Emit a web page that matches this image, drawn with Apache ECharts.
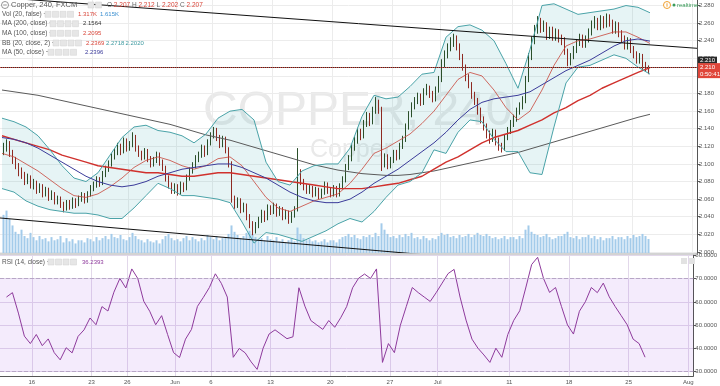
<!DOCTYPE html>
<html>
<head>
<meta charset="utf-8">
<title>Copper, 240, FXCM</title>
<script src="https://cdn.jsdelivr.net/npm/echarts@6/dist/echarts.min.js"></script>
<style>
html,body{margin:0;padding:0;background:#ffffff;}
#chart{width:720px;height:386px;}
</style>
</head>
<body>
<div id="chart"></div>
<script>
// ================= DATA =================
const TITLE = 'Copper, 240, FXCM';
const WATERMARK = 'COPPER, 240';
const WATERMARK_SUB = 'Copper';
const BARS_PER_DAY = 4;          // bars drawn per trading day
const FIRST_BAR = -10;           // bar index of first candle (0 = first bar of May 16)

// [open, close, low, high]
const candles = [
 [2.114,2.118,2.110,2.124],[2.118,2.122,2.114,2.128],
 [2.122,2.112,2.108,2.126],[2.112,2.104,2.100,2.116],[2.104,2.098,2.094,2.108],[2.098,2.092,2.086,2.101],
 [2.092,2.088,2.083,2.096],[2.088,2.080,2.076,2.091],[2.080,2.084,2.077,2.089],[2.084,2.076,2.072,2.087],
 [2.076,2.078,2.071,2.083],[2.078,2.070,2.066,2.081],[2.070,2.074,2.067,2.078],[2.074,2.066,2.062,2.077],
 [2.066,2.070,2.063,2.074],[2.070,2.062,2.058,2.073],[2.062,2.066,2.059,2.070],[2.066,2.058,2.054,2.068],
 [2.058,2.060,2.054,2.064],[2.060,2.054,2.050,2.063],[2.054,2.050,2.045,2.057],[2.050,2.056,2.047,2.059],
 [2.056,2.052,2.048,2.059],[2.052,2.058,2.049,2.062],[2.058,2.054,2.050,2.061],[2.054,2.060,2.052,2.064],
 [2.060,2.064,2.057,2.068],[2.064,2.058,2.055,2.067],[2.058,2.066,2.056,2.069],[2.066,2.072,2.063,2.076],
 [2.072,2.076,2.069,2.080],[2.076,2.082,2.073,2.086],[2.082,2.078,2.074,2.085],[2.078,2.088,2.076,2.092],
 [2.088,2.094,2.085,2.098],[2.094,2.100,2.091,2.104],[2.100,2.108,2.097,2.112],[2.108,2.114,2.105,2.118],
 [2.114,2.120,2.110,2.124],[2.120,2.114,2.110,2.123],[2.114,2.126,2.112,2.130],[2.126,2.118,2.114,2.129],
 [2.118,2.122,2.115,2.126],[2.122,2.130,2.119,2.136],[2.130,2.118,2.114,2.133],[2.118,2.112,2.108,2.121],
 [2.112,2.108,2.104,2.115],[2.108,2.114,2.105,2.118],[2.114,2.106,2.102,2.117],[2.106,2.100,2.096,2.109],
 [2.100,2.104,2.097,2.108],[2.104,2.110,2.101,2.114],[2.110,2.102,2.098,2.113],[2.102,2.096,2.092,2.105],
 [2.096,2.084,2.080,2.098],[2.084,2.076,2.072,2.087],[2.076,2.070,2.066,2.079],[2.070,2.074,2.066,2.078],
 [2.074,2.068,2.064,2.077],[2.068,2.076,2.065,2.080],[2.076,2.072,2.068,2.079],[2.072,2.084,2.070,2.088],
 [2.084,2.092,2.081,2.096],[2.092,2.098,2.089,2.102],[2.098,2.106,2.095,2.110],[2.106,2.110,2.102,2.114],
 [2.110,2.118,2.107,2.122],[2.118,2.112,2.108,2.121],[2.112,2.124,2.110,2.128],[2.124,2.132,2.121,2.136],
 [2.132,2.138,2.129,2.142],[2.138,2.130,2.126,2.141],[2.130,2.122,2.118,2.133],[2.122,2.128,2.119,2.132],
 [2.128,2.116,2.112,2.131],[2.116,2.100,2.096,2.119],[2.100,2.060,2.056,2.103],[2.060,2.054,2.049,2.064],
 [2.054,2.058,2.050,2.062],[2.058,2.048,2.044,2.061],[2.048,2.052,2.045,2.056],[2.052,2.040,2.036,2.055],
 [2.040,2.032,2.027,2.043],[2.032,2.024,2.019,2.035],[2.024,2.030,2.021,2.034],[2.030,2.036,2.027,2.040],
 [2.036,2.044,2.033,2.048],[2.044,2.038,2.034,2.047],[2.038,2.050,2.036,2.054],[2.050,2.046,2.042,2.053],
 [2.046,2.052,2.043,2.056],[2.052,2.044,2.040,2.055],[2.044,2.048,2.041,2.052],[2.048,2.040,2.036,2.051],
 [2.040,2.044,2.037,2.048],[2.044,2.036,2.032,2.047],[2.036,2.042,2.033,2.046],[2.042,2.048,2.039,2.052],
 [2.048,2.090,2.046,2.118],[2.090,2.080,2.076,2.094],[2.080,2.074,2.070,2.083],[2.074,2.070,2.066,2.077],
 [2.070,2.072,2.066,2.076],[2.072,2.066,2.062,2.075],[2.066,2.070,2.063,2.074],[2.070,2.064,2.060,2.073],
 [2.064,2.068,2.061,2.072],[2.068,2.076,2.065,2.080],[2.076,2.070,2.066,2.079],[2.070,2.066,2.062,2.073],
 [2.066,2.072,2.063,2.076],[2.072,2.066,2.062,2.075],[2.066,2.074,2.063,2.078],[2.074,2.082,2.071,2.086],
 [2.082,2.096,2.079,2.100],[2.096,2.106,2.093,2.110],[2.106,2.118,2.103,2.122],[2.118,2.126,2.115,2.131],
 [2.126,2.136,2.123,2.141],[2.136,2.132,2.127,2.140],[2.132,2.146,2.129,2.150],[2.146,2.154,2.142,2.159],
 [2.154,2.148,2.143,2.158],[2.148,2.160,2.145,2.165],[2.160,2.170,2.157,2.176],[2.170,2.162,2.157,2.173],
 [2.162,2.100,2.092,2.165],[2.100,2.108,2.096,2.112],[2.108,2.098,2.094,2.111],[2.098,2.104,2.095,2.108],
 [2.104,2.112,2.101,2.116],[2.112,2.108,2.104,2.116],[2.108,2.120,2.105,2.124],[2.120,2.128,2.117,2.132],
 [2.128,2.142,2.125,2.146],[2.142,2.156,2.139,2.160],[2.156,2.166,2.153,2.170],[2.166,2.172,2.162,2.176],
 [2.172,2.176,2.168,2.181],[2.176,2.170,2.166,2.180],[2.170,2.182,2.167,2.186],[2.182,2.186,2.178,2.191],
 [2.186,2.180,2.175,2.189],[2.180,2.174,2.170,2.183],[2.174,2.184,2.171,2.188],[2.184,2.196,2.181,2.200],
 [2.196,2.214,2.193,2.219],[2.214,2.224,2.210,2.229],[2.224,2.232,2.220,2.237],[2.232,2.238,2.228,2.244],
 [2.238,2.242,2.233,2.248],[2.242,2.234,2.229,2.246],[2.234,2.222,2.218,2.237],[2.222,2.210,2.206,2.225],
 [2.210,2.198,2.194,2.213],[2.198,2.190,2.186,2.202],[2.190,2.178,2.174,2.193],[2.178,2.172,2.167,2.182],
 [2.172,2.160,2.156,2.175],[2.160,2.150,2.146,2.164],[2.150,2.142,2.138,2.154],[2.142,2.134,2.129,2.146],
 [2.134,2.128,2.123,2.138],[2.128,2.136,2.125,2.140],[2.136,2.126,2.121,2.139],[2.126,2.120,2.115,2.130],
 [2.120,2.118,2.113,2.124],[2.118,2.130,2.115,2.134],[2.130,2.138,2.127,2.142],[2.138,2.146,2.134,2.150],
 [2.146,2.152,2.142,2.156],[2.152,2.160,2.148,2.164],[2.160,2.166,2.156,2.170],[2.166,2.172,2.162,2.177],
 [2.172,2.196,2.169,2.200],[2.196,2.222,2.193,2.226],[2.222,2.240,2.218,2.245],[2.240,2.252,2.236,2.258],
 [2.252,2.262,2.248,2.268],[2.262,2.254,2.249,2.266],[2.254,2.258,2.250,2.263],[2.258,2.246,2.241,2.261],
 [2.246,2.252,2.242,2.256],[2.252,2.244,2.240,2.256],[2.244,2.250,2.240,2.254],[2.250,2.242,2.238,2.253],
 [2.242,2.240,2.235,2.247],[2.240,2.228,2.224,2.244],[2.228,2.216,2.211,2.231],[2.216,2.222,2.212,2.226],
 [2.222,2.230,2.219,2.234],[2.230,2.238,2.226,2.242],[2.238,2.244,2.234,2.248],[2.244,2.236,2.232,2.247],
 [2.236,2.242,2.232,2.246],[2.242,2.250,2.238,2.254],[2.250,2.258,2.246,2.263],[2.258,2.262,2.254,2.268],
 [2.262,2.256,2.252,2.266],[2.256,2.264,2.252,2.269],[2.264,2.258,2.254,2.268],[2.258,2.266,2.255,2.271],
 [2.266,2.260,2.256,2.270],[2.260,2.252,2.248,2.264],[2.252,2.258,2.248,2.262],[2.258,2.248,2.244,2.261],
 [2.248,2.242,2.238,2.252],[2.242,2.234,2.230,2.246],[2.234,2.240,2.230,2.244],[2.240,2.230,2.226,2.243],
 [2.230,2.224,2.220,2.234],[2.224,2.218,2.214,2.228],[2.218,2.222,2.214,2.226],[2.222,2.212,2.207,2.225],
 [2.212,2.210,2.205,2.216],[2.207,2.207,2.202,2.212]
];

// volume, thousands
const volumes = [
 3.6,4.0,
 3.2,2.6,2.0,1.8, 2.2,1.6,1.4,1.9, 1.5,1.2,1.6,1.3, 1.4,1.1,1.5,1.2,
 1.3,1.6,1.0,1.4, 1.1,1.3,0.9,1.2, 1.2,1.0,1.4,1.3, 1.1,1.5,1.2,1.4,
 1.6,1.3,1.8,1.5, 1.4,1.7,1.3,1.2, 1.5,1.9,1.6,1.3, 1.2,1.0,1.3,1.1,
 1.0,1.2,0.9,1.3, 1.6,1.8,1.4,1.2, 1.3,1.1,1.4,1.6, 1.2,1.5,1.3,1.1,
 1.4,1.2,1.7,1.5, 1.3,1.6,1.2,1.4, 1.5,1.8,2.6,2.0, 1.7,1.4,1.6,1.9,
 2.1,1.8,1.5,1.3, 1.4,1.2,1.6,1.3, 1.2,1.5,1.1,1.3, 1.0,1.2,1.4,1.1,
 2.4,1.8,1.4,1.2, 1.3,1.1,1.2,1.0, 1.1,1.3,1.0,1.2, 1.2,1.0,1.3,1.5,
 1.6,1.8,1.5,1.7, 1.4,1.3,1.6,1.5, 1.7,1.5,1.9,1.6, 2.8,2.2,1.8,1.5,
 1.6,1.4,1.7,1.5, 1.8,1.6,1.9,1.4, 1.5,1.3,1.6,1.4, 1.2,1.4,1.3,1.6,
 1.9,1.7,1.8,1.5, 1.6,1.4,1.7,1.5, 1.6,1.8,1.5,1.7, 1.9,1.7,1.6,1.8,
 1.6,1.4,1.5,1.3, 1.4,1.6,1.3,1.5, 1.5,1.3,1.6,1.4, 2.2,2.6,2.0,1.8,
 1.7,1.5,1.6,1.8, 1.5,1.3,1.4,1.6, 1.6,1.8,2.0,1.5, 1.4,1.6,1.3,1.5,
 1.5,1.7,1.4,1.6, 1.3,1.5,1.2,1.4, 1.4,1.6,1.3,1.5, 1.5,1.3,1.6,1.4,
 1.7,1.5,1.6,1.8,
 1.6,1.317
];
const VOL_MA_LAST = 1.615;

// indicator lines, one value per trading day starting at LINE_FIRST_DAY (day 0 = May 16)
const LINE_FIRST_DAY = -3;
const bbUpper = [2.152,2.148,2.142,2.132,2.116,2.098,2.084,2.080,2.090,2.110,
 2.130,2.142,2.144,2.138,2.136,2.132,2.124,2.134,2.152,2.160,
 2.162,2.150,2.102,2.080,2.076,2.092,2.098,2.100,2.100,2.118,
 2.154,2.178,2.174,2.176,2.188,2.202,2.204,2.244,2.256,2.258,
 2.252,2.240,2.214,2.186,2.230,2.280,2.282,2.276,2.270,2.272,
 2.274,2.276,2.280,2.278,2.2718];
const bbLower = [2.072,2.068,2.058,2.052,2.048,2.046,2.044,2.044,2.042,2.038,
 2.038,2.050,2.064,2.078,2.072,2.064,2.064,2.062,2.060,2.056,
 2.034,2.010,2.022,2.020,2.016,2.012,2.018,2.024,2.032,2.038,
 2.034,2.046,2.062,2.076,2.080,2.090,2.116,2.112,2.136,2.150,
 2.148,2.128,2.114,2.114,2.090,2.088,2.142,2.192,2.210,2.212,
 2.218,2.224,2.220,2.210,2.2020];
const bbBasis = [2.112,2.108,2.100,2.092,2.082,2.072,2.064,2.062,2.066,2.074,
 2.084,2.096,2.104,2.108,2.104,2.098,2.094,2.098,2.106,2.108,
 2.098,2.080,2.062,2.050,2.046,2.052,2.058,2.062,2.066,2.078,
 2.094,2.112,2.118,2.126,2.134,2.146,2.160,2.178,2.196,2.204,
 2.200,2.184,2.164,2.150,2.160,2.184,2.212,2.234,2.240,2.242,
 2.246,2.250,2.250,2.244,2.2369];
const ma50 = [2.130,2.128,2.124,2.118,2.110,2.102,2.094,2.086,2.080,2.076,
 2.074,2.076,2.080,2.086,2.090,2.094,2.096,2.098,2.100,2.100,
 2.096,2.090,2.084,2.076,2.068,2.062,2.058,2.056,2.056,2.060,
 2.068,2.078,2.086,2.094,2.104,2.114,2.124,2.136,2.150,2.162,
 2.170,2.174,2.176,2.178,2.182,2.190,2.198,2.206,2.212,2.218,
 2.226,2.234,2.240,2.242,2.2396];
const ma100 = [2.132,2.128,2.124,2.120,2.116,2.110,2.106,2.102,2.098,2.096,
 2.094,2.092,2.090,2.090,2.088,2.086,2.086,2.088,2.090,2.090,
 2.088,2.086,2.084,2.082,2.080,2.078,2.076,2.074,2.072,2.072,
 2.072,2.074,2.076,2.078,2.082,2.086,2.094,2.102,2.108,2.116,
 2.124,2.130,2.134,2.138,2.144,2.150,2.158,2.164,2.172,2.178,
 2.186,2.192,2.198,2.204,2.2095];
const ma200 = [2.184,2.182,2.180,2.178,2.175,2.172,2.169,2.166,2.163,2.160,
 2.157,2.154,2.151,2.148,2.145,2.141,2.137,2.133,2.130,2.127,
 2.123,2.119,2.115,2.111,2.107,2.103,2.099,2.096,2.093,2.091,
 2.089,2.088,2.087,2.087,2.088,2.090,2.092,2.095,2.098,2.101,
 2.104,2.107,2.110,2.113,2.117,2.121,2.125,2.129,2.133,2.137,
 2.141,2.145,2.149,2.153,2.1564];

// RSI(14), one value every RSI_STEP bars from RSI_FIRST_BAR
const RSI_FIRST_BAR = -9;
const RSI_STEP = 2;
const rsi = [62.1,64.0,55.2,45.3,42.1,46.0,41.2,44.1,38.2,35.1,
 40.3,38.1,45.2,48.0,53.1,50.2,58.0,56.1,64.2,70.1,
 66.0,74.2,70.1,60.3,56.0,50.2,54.1,46.0,38.2,36.1,
 44.0,48.2,58.1,62.0,66.2,72.1,68.0,62.1,36.2,40.0,
 38.1,34.2,31.0,40.1,46.2,48.0,46.1,44.2,45.0,66.1,
 58.2,52.0,50.1,48.2,52.0,49.1,53.2,58.0,66.1,70.2,
 72.0,70.1,74.2,34.0,42.1,38.2,50.0,58.1,66.2,64.0,
 62.1,60.2,64.0,68.1,72.2,74.0,62.1,52.2,44.0,40.1,
 37.2,34.0,40.1,36.2,46.0,52.1,56.2,66.0,76.1,79.2,
 70.0,64.1,66.2,58.0,50.1,46.2,56.0,60.1,66.2,64.0,
 68.1,62.2,58.0,54.1,50.2,44.0,42.1,36.2393];

// axes
const PRICE_TICKS = [2.000,2.020,2.040,2.060,2.080,2.100,2.120,2.140,2.160,2.180,2.200,2.220,2.240,2.260,2.280];
const RSI_TICKS = [30,40,50,60,70,80];
const RSI_BAND = [70,30];
const DATE_LABELS = ['16','23','26','Jun','6','13','20','27','Jul','11','18','25','Aug'];
const DATE_LABEL_DAYS = [0,5,8,12,15,20,25,30,34,40,45,50,55];

// user drawings: [bar, price] end points
const TREND_TOP = [[-11.17, 2.2891],[221.17, 2.2314]];
const TREND_BOTTOM = [[-11.17, 2.0386],[128.8, 1.9973]];
const HLINE_PRICE = 2.208;
const COUNTDOWN = '0:50:41';

// ================= CHART =================
const FONT = '"Liberation Sans", Arial, sans-serif';
const X_MIN = -11.1667, X_MAX = 221.1667;
const P_MIN = 1.9988, P_MAX = 2.2863;
const R_MIN = 28.15, R_MAX = 80.19;
const VOL_MAX = 5;

const dayStart = d => d * BARS_PER_DAY - 0.5;
const dayMid = d => d * BARS_PER_DAY + (BARS_PER_DAY - 1) / 2;
const dateTicks = DATE_LABEL_DAYS.map(dayStart);

const candleData = candles.map((c, i) => [FIRST_BAR + i, c[0], c[1], c[2], c[3]]);
const volData = volumes.map((v, i) => [FIRST_BAR + i, v]);
const linePts = arr => arr.map((v, i) => [dayMid(LINE_FIRST_DAY + i), v]);
const bandData = bbUpper.map((u, i) => [dayMid(LINE_FIRST_DAY + i), u, bbLower[i]]);
const rsiData = rsi.map((v, i) => [RSI_FIRST_BAR + i * RSI_STEP, v]);

const last = candles[candles.length - 1];

function lineSeries(name, arr, color, width, z) {
  return { name, type: 'line', xAxisIndex: 0, yAxisIndex: 0, data: linePts(arr), symbol: 'none',
    smooth: false, silent: true, z: z || 4, lineStyle: { color, width } };
}

const axisTxt = { color: '#555', fontSize: 6, fontFamily: FONT };

function txt(x, y, text, fill, size) {
  return { type: 'text', x, y, z: 100, silent: true,
    style: { text, fill, font: size + 'px ' + FONT, verticalAlign: 'middle' } };
}
function boxes(x, y, n) {
  const out = [];
  for (let k = 0; k < n; k++) out.push({ type: 'rect', z: 100, silent: true,
    shape: { x: x + k * 7.5, y: y - 3, width: 6, height: 6 },
    style: { fill: '#e6e6e6', stroke: '#d0d0d0', lineWidth: 0.5 } });
  return out;
}

const graphics = [
  { type: 'text', x: 203, y: 112, z: 0, silent: true,
    style: { text: WATERMARK, fill: '#e9e9e9', font: '48px ' + FONT, verticalAlign: 'middle' } },
  { type: 'text', x: 310, y: 150, z: 0, silent: true,
    style: { text: WATERMARK_SUB, fill: '#e9e9e9', font: '25px ' + FONT, verticalAlign: 'middle' } },
  { type: 'line', z: 50, silent: true, shape: { x1: 0, y1: 254, x2: 697, y2: 254 }, style: { stroke: '#c4c4c4', lineWidth: 1.5 } },
  { type: 'circle', z: 100, silent: true, shape: { cx: 5, cy: 5, r: 3.5 }, style: { fill: '#fff', stroke: '#777', lineWidth: 0.8 } },
  { type: 'line', z: 101, silent: true, shape: { x1: 3.2, y1: 5, x2: 6.8, y2: 5 }, style: { stroke: '#777', lineWidth: 0.8 } },
  txt(11, 5, TITLE, '#555', 7.5),
  ...boxes(88, 5, 2),
  { type: 'text', x: 107, y: 5, z: 100, silent: true,
    style: { text: '{l|O} {v|' + last[0].toFixed(3) + '} {l|H} {v|' + last[3].toFixed(3) + '} {l|L} {v|' + last[2].toFixed(3) + '} {l|C} {v|' + last[1].toFixed(3) + '}',
      font: '6.5px ' + FONT, verticalAlign: 'middle',
      rich: { l: { fill: '#666', fontSize: 6.5, fontFamily: FONT }, v: { fill: '#d9463a', fontSize: 6.5, fontFamily: FONT } } } },
  txt(2, 14.3, 'Vol (20, false) ~', '#555', 6.5), ...boxes(45, 14.3, 4),
  txt(78, 14.3, volumes[volumes.length - 1].toFixed(3) + 'K', '#d9463a', 6),
  txt(100, 14.3, VOL_MA_LAST.toFixed(3) + 'K', '#3a8fd0', 6),
  txt(2, 23.7, 'MA (200, close) ~', '#555', 6.5), ...boxes(50, 23.7, 4),
  txt(83, 23.7, ma200[ma200.length - 1].toFixed(4), '#333', 6),
  txt(2, 33.3, 'MA (100, close) ~', '#555', 6.5), ...boxes(50, 33.3, 4),
  txt(83, 33.3, ma100[ma100.length - 1].toFixed(4), '#d9463a', 6),
  txt(2, 43, 'BB (20, close, 2) ~', '#555', 6.5), ...boxes(53, 43, 4),
  txt(86, 43, bbBasis[bbBasis.length - 1].toFixed(4), '#d9463a', 6),
  txt(106, 43, bbUpper[bbUpper.length - 1].toFixed(4), '#3f9aa0', 6),
  txt(125.5, 43, bbLower[bbLower.length - 1].toFixed(4), '#3f9aa0', 6),
  txt(2, 52.3, 'MA (50, close) ~', '#555', 6.5), ...boxes(48, 52.3, 4),
  txt(85, 52.3, ma50[ma50.length - 1].toFixed(4), '#3b3b9a', 6),
  txt(2, 262, 'RSI (14, close) ~', '#555', 6.5), ...boxes(48, 262, 4),
  txt(82, 262, rsi[rsi.length - 1].toFixed(4), '#8e3a9c', 6),
  { type: 'rect', z: 100, silent: true, shape: { x: 681, y: 258, width: 6, height: 6 }, style: { fill: '#e2e2e2' } },
  { type: 'rect', z: 100, silent: true, shape: { x: 689, y: 258, width: 6, height: 6 }, style: { fill: '#e2e2e2' } },
  { type: 'circle', z: 100, silent: true, shape: { cx: 667, cy: 5, r: 3.5 }, style: { fill: '#fff', stroke: '#f0a030', lineWidth: 1 } },
  { type: 'line', z: 101, silent: true, shape: { x1: 667, y1: 3.3, x2: 667, y2: 6.7 }, style: { stroke: '#f0a030', lineWidth: 1 } },
  { type: 'circle', z: 100, silent: true, shape: { cx: 674, cy: 5, r: 1.5 }, style: { fill: '#3a9c5a' } },
  txt(677, 5, 'realtime', '#3a9c5a', 6)
];

const option = {
  animation: false,
  backgroundColor: '#ffffff',
  grid: [
    { left: 0, right: 23, top: 0, height: 253 },
    { left: 0, right: 23, top: 200, height: 53 },
    { left: 0, right: 23, top: 255, height: 121 }
  ],
  xAxis: [
    { gridIndex: 0, type: 'value', min: X_MIN, max: X_MAX,
      axisLine: { show: false, onZero: false }, axisTick: { show: false, customValues: dateTicks },
      axisLabel: { show: false, customValues: dateTicks },
      splitLine: { show: true, lineStyle: { color: '#ececec', width: 1 } } },
    { gridIndex: 1, type: 'value', min: X_MIN, max: X_MAX, show: false },
    { gridIndex: 2, type: 'value', min: X_MIN, max: X_MAX,
      axisLine: { show: true, onZero: false, lineStyle: { color: '#555', width: 1 } },
      axisTick: { show: false, customValues: dateTicks },
      axisLabel: Object.assign({ customValues: dateTicks, margin: 3,
        formatter: v => { const k = dateTicks.findIndex(t => Math.abs(t - v) < 1e-6); return k >= 0 ? DATE_LABELS[k] : ''; } }, axisTxt),
      splitLine: { show: true, lineStyle: { color: '#e2d8ea', width: 1 } } }
  ],
  yAxis: [
    { gridIndex: 0, type: 'value', position: 'right', min: P_MIN, max: P_MAX, scale: true,
      axisLine: { show: true, onZero: false, lineStyle: { color: '#555', width: 1 } },
      axisTick: { show: true, length: 3, customValues: PRICE_TICKS, lineStyle: { color: '#555' } },
      axisLabel: Object.assign({ customValues: PRICE_TICKS, margin: 2, formatter: v => v.toFixed(3) }, axisTxt),
      splitLine: { show: true, lineStyle: { color: '#ececec', width: 1 } } },
    { gridIndex: 1, type: 'value', min: 0, max: VOL_MAX, show: false, axisLine: { onZero: false } },
    { gridIndex: 2, type: 'value', position: 'right', min: R_MIN, max: R_MAX, scale: true,
      axisLine: { show: true, onZero: false, lineStyle: { color: '#555', width: 1 } },
      axisTick: { show: true, length: 3, customValues: RSI_TICKS, lineStyle: { color: '#555' } },
      axisLabel: Object.assign({ customValues: RSI_TICKS, margin: 2, formatter: v => v.toFixed(4) }, axisTxt),
      splitLine: { show: true, lineStyle: { color: '#e2d8ea', width: 1 } } }
  ],
  graphic: graphics,
  series: [
    // Bollinger band fill (one polygon through the band's upper and lower values)
    { type: 'custom', xAxisIndex: 0, yAxisIndex: 0, data: bandData, silent: true, z: 1, clip: true,
      encode: { x: 0, y: [1, 2] },
      renderItem: (params, api) => {
        if (params.dataIndex !== 0) return null;
        const up = [], lo = [];
        bandData.forEach(d => { up.push(api.coord([d[0], d[1]])); lo.push(api.coord([d[0], d[2]])); });
        return { type: 'polygon', shape: { points: up.concat(lo.reverse()) },
          style: { fill: 'rgba(90,180,190,0.15)' } };
      } },
    // volume
    { type: 'bar', xAxisIndex: 1, yAxisIndex: 1, data: volData, barWidth: 2, silent: true, z: 1,
      itemStyle: { color: '#a3cbea' } },
    // trend lines
    { type: 'line', xAxisIndex: 0, yAxisIndex: 0, data: TREND_TOP, symbol: 'none', silent: true, z: 5,
      lineStyle: { color: '#111', width: 1 } },
    { type: 'line', xAxisIndex: 0, yAxisIndex: 0, data: TREND_BOTTOM, symbol: 'none', silent: true, z: 5,
      lineStyle: { color: '#111', width: 1 } },
    // candles
    { type: 'candlestick', xAxisIndex: 0, yAxisIndex: 0, data: candleData, encode: { x: 0, y: [1, 2, 3, 4] },
      barWidth: 1.2, silent: true, z: 3,
      itemStyle: { color: '#3e6f3c', color0: '#b5372c', borderColor: '#2b4f2a', borderColor0: '#8e2a22', borderWidth: 1 },
      markLine: { silent: true, symbol: 'none', animation: false,
        data: [
          { yAxis: HLINE_PRICE, lineStyle: { color: '#333', width: 1, type: 'solid' },
            label: { show: true, position: 'end', distance: 1, offset: [0, -7], formatter: p => p.value.toFixed(3),
              color: '#fff', backgroundColor: '#2a2a2a', padding: [1, 2, 0, 2], fontSize: 6, fontFamily: FONT } },
          { yAxis: last[1], lineStyle: { color: '#d9463a', width: 1, type: 'dotted' },
            label: { show: true, position: 'end', distance: 1, offset: [0, 3.5], formatter: p => p.value.toFixed(3) + '\n' + COUNTDOWN,
              color: '#fff', backgroundColor: '#e0463a', padding: [1, 2, 0, 2], fontSize: 6, lineHeight: 7, fontFamily: FONT } }
        ] } },
    // indicators
    lineSeries('MA200', ma200, '#5a5a5a', 1, 4),
    lineSeries('MA100', ma100, '#d0312d', 1.4, 4),
    lineSeries('BB upper', bbUpper, '#4aa3a8', 1, 4),
    lineSeries('BB lower', bbLower, '#4aa3a8', 1, 4),
    lineSeries('BB basis', bbBasis, '#c8453a', 0.8, 4),
    lineSeries('MA50', ma50, '#3b3b9a', 1, 4),
    // RSI
    { type: 'line', xAxisIndex: 2, yAxisIndex: 2, data: rsiData, symbol: 'none', silent: true, z: 4,
      lineStyle: { color: '#8e3a9c', width: 1 },
      markArea: { silent: true, itemStyle: { color: 'rgba(150,60,225,0.10)' }, data: [[{ yAxis: RSI_BAND[0] }, { yAxis: RSI_BAND[1] }]] },
      markLine: { silent: true, symbol: 'none', label: { show: false },
        lineStyle: { color: '#b7a6c6', type: 'dashed', width: 1 },
        data: RSI_BAND.map(v => ({ yAxis: v })) } }
  ]
};

const chart = echarts.init(document.getElementById('chart'), null, { renderer: 'canvas' });
chart.setOption(option);
</script>
</body>
</html>
